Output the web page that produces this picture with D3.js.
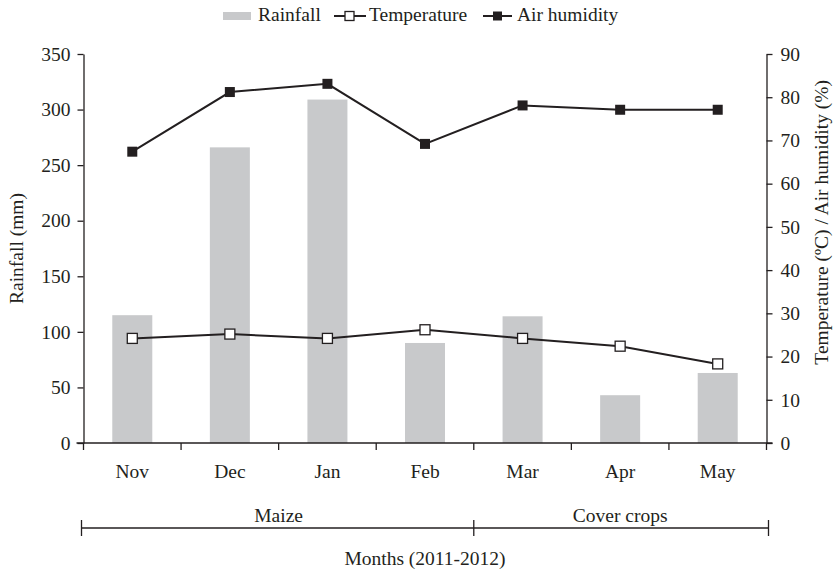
<!DOCTYPE html>
<html><head><meta charset="utf-8">
<script src="https://cdn.jsdelivr.net/npm/d3@7"></script>
<style>body{margin:0;background:#fff}svg{display:block}</style>
</head><body><svg id="c" width="834" height="572"></svg>
<script>
const months = ["Nov","Dec","Jan","Feb","Mar","Apr","May"];
const rainfall = [115, 266, 309, 90, 114, 43, 63];
const temperature = [24.2, 25.2, 24.2, 26.2, 24.2, 22.4, 18.3];
const humidity = [67.4, 81.2, 83.1, 69.2, 78.1, 77.1, 77.1];
const leftTicks = [0,50,100,150,200,250,300,350];
const rightTicks = [0,10,20,30,40,50,60,70,80,90];
const groups = [{label:"Maize", from:0, to:4},{label:"Cover crops", from:4, to:7}];

const svg = d3.select("#c");
const L = 83.5, R = 766.5, T = 54, B = 443;
const ink = "#231f20";
const fs = 19.5;
const FF = "Liberation Serif";

const x = d3.scaleBand().domain(months).range([L, R]).paddingInner(0.59).paddingOuter(0.295);
const xb = d3.scaleBand().domain(months).range([L, R]);
const yL = d3.scaleLinear().domain([0,350]).range([B, T]);
const yR = d3.scaleLinear().domain([0,90]).range([B, T]);

svg.append("g").selectAll("rect").data(rainfall).join("rect")
  .attr("x",(d,i)=>x(months[i])).attr("width",x.bandwidth())
  .attr("y",d=>yL(d)).attr("height",d=>B-yL(d)).attr("fill","#c8c9cb");

const axL = svg.append("g").attr("transform",`translate(${L},0)`)
  .call(d3.axisLeft(yL).tickValues(leftTicks).tickSize(6).tickSizeOuter(0).tickPadding(7));
const axR = svg.append("g").attr("transform",`translate(${R},0)`)
  .call(d3.axisRight(yR).tickValues(rightTicks).tickSize(6).tickSizeOuter(0).tickPadding(8));
const axB = svg.append("g").attr("transform",`translate(0,${B})`)
  .call(d3.axisBottom(xb).tickSize(0).tickSizeOuter(0).tickPadding(21));
[axL,axR,axB].forEach(a=>{
  a.attr("font-family",null);
  a.selectAll("path.domain").attr("stroke",ink).attr("stroke-width",1.3);
  a.selectAll(".tick line").attr("stroke",ink).attr("stroke-width",1.3);
  a.selectAll("text").attr("font-size",fs).attr("fill",ink).style("font-family",FF);
});
axB.selectAll("path.domain").attr("d",`M${L-7},0H${R+6}`);
const bounds = months.map(m=>xb(m)).concat([R]);
svg.append("g").selectAll("line").data(bounds).join("line")
  .attr("x1",d=>d).attr("x2",d=>d).attr("y1",B).attr("y2",B+7)
  .attr("stroke",ink).attr("stroke-width",1.3);

const line = (data, sc) => d3.line().x((d,i)=>xb(months[i])+xb.bandwidth()/2).y(d=>sc(d))(data);
svg.append("path").attr("d",line(temperature,yR)).attr("fill","none").attr("stroke",ink).attr("stroke-width",2);
svg.append("path").attr("d",line(humidity,yR)).attr("fill","none").attr("stroke",ink).attr("stroke-width",2);
const ms = 10;
svg.append("g").selectAll("rect").data(temperature).join("rect")
  .attr("x",(d,i)=>xb(months[i])+xb.bandwidth()/2-ms/2).attr("y",d=>yR(d)-ms/2)
  .attr("width",ms).attr("height",ms).attr("fill","#fff").attr("stroke",ink).attr("stroke-width",1.3);
svg.append("g").selectAll("rect").data(humidity).join("rect")
  .attr("x",(d,i)=>xb(months[i])+xb.bandwidth()/2-ms/2).attr("y",d=>yR(d)-ms/2)
  .attr("width",ms).attr("height",ms).attr("fill",ink);

svg.append("text").attr("transform",`translate(23,${(T+B)/2}) rotate(-90)`).attr("text-anchor","middle")
  .style("font-family",FF).attr("font-size",fs).attr("fill",ink).text("Rainfall (mm)");
svg.append("text").attr("transform",`translate(828,80) rotate(-90)`).attr("text-anchor","end")
  .style("font-family",FF).attr("font-size",fs).attr("fill",ink).text("Temperature (ºC) / Air humidity (%)");

const by = 528;
svg.append("line").attr("x1",L-2).attr("x2",R+2).attr("y1",by).attr("y2",by).attr("stroke",ink).attr("stroke-width",1.3);
const gb = [L-2, xb(months[4]), R+2];
svg.append("g").selectAll("line").data(gb).join("line")
  .attr("x1",d=>d).attr("x2",d=>d).attr("y1",by-8).attr("y2",by+8).attr("stroke",ink).attr("stroke-width",1.3);
svg.append("g").selectAll("text").data(groups).join("text")
  .attr("x",g=>((xb(months[g.from]))+(g.to<months.length?xb(months[g.to]):R))/2)
  .attr("y",by-6).attr("text-anchor","middle").style("font-family",FF).attr("font-size",fs).attr("fill",ink).text(g=>g.label);
svg.append("text").attr("x",(L+R)/2).attr("y",565).attr("text-anchor","middle")
  .style("font-family",FF).attr("font-size",fs).attr("fill",ink).text("Months (2011-2012)");

const lg = svg.append("g");
lg.append("rect").attr("x",223).attr("y",12).attr("width",28).attr("height",8).attr("fill","#c8c9cb");
lg.append("text").attr("x",258).attr("y",21).style("font-family",FF).attr("font-size",fs).attr("fill",ink).text("Rainfall");
lg.append("line").attr("x1",334).attr("x2",366).attr("y1",16).attr("y2",16).attr("stroke",ink).attr("stroke-width",2);
lg.append("rect").attr("x",345).attr("y",11.5).attr("width",9).attr("height",9).attr("fill","#fff").attr("stroke",ink).attr("stroke-width",1.3);
lg.append("text").attr("x",369).attr("y",21).style("font-family",FF).attr("font-size",fs).attr("fill",ink).text("Temperature");
lg.append("line").attr("x1",483).attr("x2",512).attr("y1",16).attr("y2",16).attr("stroke",ink).attr("stroke-width",2);
lg.append("rect").attr("x",493).attr("y",11.5).attr("width",9).attr("height",9).attr("fill",ink);
lg.append("text").attr("x",517).attr("y",21).style("font-family",FF).attr("font-size",fs).attr("fill",ink).text("Air humidity");
</script></body></html>
